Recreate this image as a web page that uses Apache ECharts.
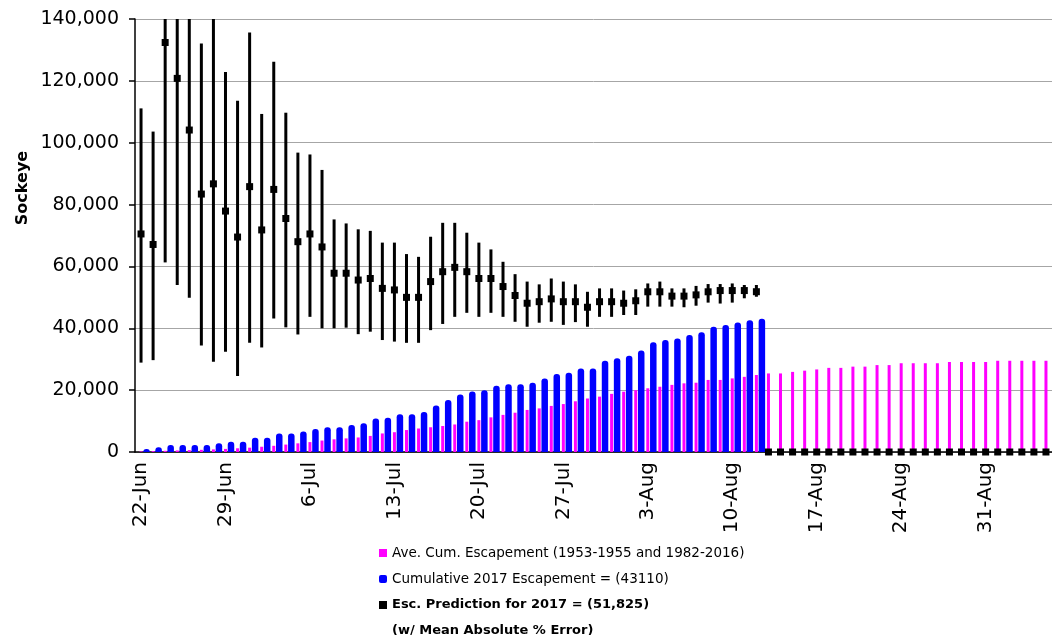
<!DOCTYPE html>
<html>
<head>
<meta charset="utf-8">
<title>Sockeye escapement</title>
<script src="https://cdn.jsdelivr.net/npm/echarts@6/dist/echarts.min.js"></script>
<style>
  html, body { margin: 0; padding: 0; background: #fff; overflow: hidden; }
  #myChart { width: 1052px; height: 635px; }
</style>
</head>
<body>
<div id="myChart"></div>
<script>
  // categories, one per day
  var dates = ['22-Jun', '23-Jun', '24-Jun', '25-Jun', '26-Jun', '27-Jun', '28-Jun', '29-Jun', '30-Jun',
    '1-Jul', '2-Jul', '3-Jul', '4-Jul', '5-Jul', '6-Jul', '7-Jul', '8-Jul', '9-Jul', '10-Jul',
    '11-Jul', '12-Jul', '13-Jul', '14-Jul', '15-Jul', '16-Jul', '17-Jul', '18-Jul', '19-Jul', '20-Jul',
    '21-Jul', '22-Jul', '23-Jul', '24-Jul', '25-Jul', '26-Jul', '27-Jul', '28-Jul', '29-Jul', '30-Jul', '31-Jul',
    '1-Aug', '2-Aug', '3-Aug', '4-Aug', '5-Aug', '6-Aug', '7-Aug', '8-Aug', '9-Aug', '10-Aug',
    '11-Aug', '12-Aug', '13-Aug', '14-Aug', '15-Aug', '16-Aug', '17-Aug', '18-Aug', '19-Aug', '20-Aug',
    '21-Aug', '22-Aug', '23-Aug', '24-Aug', '25-Aug', '26-Aug', '27-Aug', '28-Aug', '29-Aug', '30-Aug', '31-Aug',
    '1-Sep', '2-Sep', '3-Sep', '4-Sep', '5-Sep']

  // Ave. Cum. Escapement (magenta)
  var aveCum = [200, 300, 400, 500, 600, 700, 850, 1000, 1200, 1400, 1700, 2000, 2400, 2800, 3200, 3700, 4100, 4400,
    4700, 5200, 6000, 6400, 7100, 7600, 8000, 8400, 8900, 9800, 10300, 11200, 12000, 12700, 13600, 14100, 14900, 15500,
    16400, 17300, 17900, 18800, 19500, 20000, 20600, 21100, 21700, 22200, 22400, 23300, 23300, 23800, 24300, 24900,
    25400, 25400, 25900, 26300, 26700, 27200, 27200, 27600, 27600, 28100, 28100, 28700, 28700, 28700, 28700,
    29100, 29100, 29100, 29100, 29500, 29500, 29500, 29500, 29500]

  // Cumulative 2017 escapement (blue), up to 12-Aug
  var cum2017 = [1000, 1500, 2300, 2300, 2300, 2300, 2800, 3300, 3300, 4600, 4600, 6000, 6000, 6600, 7400, 8000, 8000,
    8700, 9300, 10800, 11100, 12200, 12200, 12900, 15000, 16800, 18600, 19600, 20000, 21400, 21900, 21900, 22400,
    23800, 25200, 25600, 27000, 27000, 29500, 30300, 31100, 32800, 35500, 36200, 36700, 37800, 38700, 40500,
    41100, 41900, 42600, 43110]

  // escapement prediction and its error range
  var prediction = [70500, 67100, 132400, 120800, 104100, 83400, 86700, 77900, 69500, 85800, 71800, 84900, 75500,
    68000, 70500, 66300, 57800, 57800, 55600, 56100, 52900, 52400, 50000, 50000, 55100, 58300, 59700, 58300,
    56100, 56100, 53500, 50600, 48100, 48600, 49500, 48600, 48600, 46800, 48600, 48600, 48100, 48900, 51800,
    51800, 50400, 50400, 50800, 51800, 52200, 52200, 52200, 51825,
    0, 0, 0, 0, 0, 0, 0, 0, 0, 0, 0, 0, 0, 0, 0, 0, 0, 0, 0, 0, 0, 0, 0, 0]
  var predHigh = [111100, 103600, 150000, 148000, 146000, 132100, 145000, 122900, 113600, 135600, 109300, 126200,
    109700, 96800, 96200, 91200, 75200, 73900, 72000, 71500, 67700, 67700, 64000, 63100, 69600, 74100, 74100,
    70900, 67700, 65500, 61500, 57500, 55100, 54200, 56100, 55100, 54200, 51800, 52900, 52900, 52200, 52600,
    54500, 55100, 52900, 52900, 53700, 54300, 54300, 54500, 54000, 54000]
  var predLow = [28900, 29700, 61300, 54000, 49900, 34400, 29200, 32400, 24600, 35300, 33800, 43200, 40300, 38000,
    43700, 40000, 40000, 40200, 38100, 38900, 36200, 35700, 35300, 35300, 39400, 41400, 43700, 45000, 43700,
    45000, 43700, 42100, 40500, 41800, 42100, 41100, 42000, 40500, 43700, 43700, 44300, 44300, 47000, 47000,
    47000, 46800, 47300, 48300, 48000, 48300, 49700, 50200]

  // y axis ticks
  var yTicks = [0, 20000, 40000, 60000, 80000, 100000, 120000, 140000]

  var nameAve = 'Ave. Cum. Escapement (1953-1955 and 1982-2016)'
  var nameCum = 'Cumulative 2017 Escapement = (43110)'
  var namePred = 'Esc. Prediction for 2017 = (51,825)'

  var errorData = []
  for (var i = 0; i < predLow.length; i++) {
    errorData.push([i, predLow[i], predHigh[i]])
  }

  var font = 'DejaVu Sans'
  var myChart = echarts.init(document.getElementById('myChart'))

  myChart.setOption({
    animation: false,
    backgroundColor: '#fff',
    grid: { left: 135, right: -6, top: 19, bottom: 183 },
    legend: {
      orient: 'vertical',
      left: 379,
      top: 545,
      padding: 0,
      itemWidth: 8,
      itemHeight: 8,
      itemGap: 10,
      selectedMode: false,
      textStyle: { fontFamily: font, fontSize: 13.5, color: '#000', lineHeight: 16 },
      data: [
        { name: nameAve, icon: 'rect' },
        { name: nameCum, icon: 'roundRect' },
        { name: namePred, icon: 'rect', itemStyle: { opacity: 1 }, textStyle: { fontWeight: 'bold', fontSize: 13 } }
      ]
    },
    graphic: [
      {
        type: 'text', left: 392, top: 624,
        style: { text: '(w/ Mean Absolute % Error)', font: 'bold 13px "DejaVu Sans"', fill: '#000' }
      },
      {
        type: 'text', x: 23, y: 188, rotation: Math.PI / 2,
        style: { text: 'Sockeye', font: 'bold 16px "DejaVu Sans"', fill: '#000', align: 'center', verticalAlign: 'middle' }
      }
    ],
    xAxis: [
      {
        type: 'category',
        data: dates,
        axisLine: { lineStyle: { color: '#000', width: 1.5 } },
        axisTick: { interval: 6, length: 6, lineStyle: { color: '#000', width: 1.5 } },
        axisLabel: { interval: 6, rotate: 90, margin: 10, color: '#000', fontFamily: font, fontSize: 20 }
      },
      {
        // hidden twin axis so the blue bars sit beside the magenta ones
        type: 'category',
        data: dates,
        show: false
      }
    ],
    yAxis: {
      type: 'value',
      min: yTicks[0],
      max: yTicks[yTicks.length - 1],
      interval: yTicks[1] - yTicks[0],
      axisLine: { show: true, lineStyle: { color: '#000', width: 1.5 } },
      axisTick: { show: true, length: 6, lineStyle: { color: '#000', width: 1.5 } },
      splitLine: { lineStyle: { color: '#a6a6a6', width: 1 } },
      axisLabel: {
        margin: 16, color: '#000', fontFamily: font, fontSize: 19,
        formatter: function (v) { return v.toLocaleString('en-US') }
      }
    },
    series: [
      {
        name: nameAve,
        type: 'bar',
        xAxisIndex: 0,
        barWidth: 3,
        itemStyle: { color: '#ff00ff' },
        data: aveCum
      },
      {
        // spacer, draws nothing
        name: 'spacer',
        type: 'bar',
        xAxisIndex: 1,
        barWidth: 11,
        barGap: 0,
        data: []
      },
      {
        name: nameCum,
        type: 'bar',
        xAxisIndex: 1,
        barWidth: 6.5,
        barGap: 0,
        itemStyle: { color: '#0000ff', borderRadius: [3, 3, 0, 0] },
        data: cum2017
      },
      {
        name: 'range',
        type: 'custom',
        xAxisIndex: 0,
        encode: { x: 0, y: [1, 2] },
        z: 3,
        renderItem: function (params, api) {
          var top = api.coord([api.value(0), api.value(2)])
          var bottom = api.coord([api.value(0), api.value(1)])
          var y1 = Math.max(top[1], params.coordSys.y)
          return {
            type: 'line',
            shape: { x1: top[0], y1: y1, x2: bottom[0], y2: bottom[1] },
            style: { stroke: '#000', lineWidth: 3 }
          }
        },
        data: errorData
      },
      {
        name: namePred,
        type: 'scatter',
        xAxisIndex: 0,
        symbol: 'rect',
        symbolSize: 7,
        z: 4,
        itemStyle: { color: '#000', opacity: 1 },
        data: prediction
      }
    ]
  })
</script>
</body>
</html>
